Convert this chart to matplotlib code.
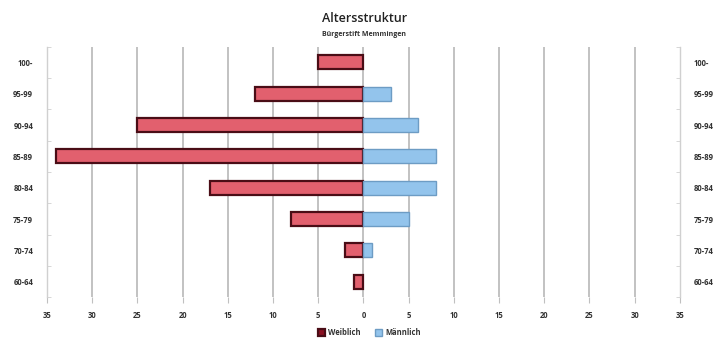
import numpy as np
import matplotlib.pyplot as plt

# Age groups, top to bottom
groups = ["100-", "95-99", "90-94", "85-89", "80-84", "75-79", "70-74", "60-64"]
weiblich = [5, 12, 25, 34, 17, 8, 2, 1]
maennlich = [0, 3, 6, 8, 8, 5, 1, 0]
xticks = [-35, -30, -25, -20, -15, -10, -5, 0, 5, 10, 15, 20, 25, 30, 35]

plt.rcParams['font.family'] = ['Open Sans', 'DejaVu Sans']

fig = plt.figure(figsize=(7.24, 3.41), dpi=100)
ax = fig.add_axes([0.065, 0.128, 0.874, 0.735])

y = np.arange(len(groups))[::-1]
h = 0.45

ax.barh(y, -np.array(weiblich), height=h, color='#e2606e', edgecolor='#4a0d16',
        linewidth=1.6, zorder=3, label='Weiblich')
mb = ax.barh(y, maennlich, height=h, color='#93c4ec', edgecolor='#6d9cc4',
             linewidth=1.0, zorder=3, label='Männlich')
# empty groups get no outline
for p, v in zip(mb.patches, maennlich):
    if v == 0:
        p.set_linewidth(0)

ax.set_xlim(-35, 35)
ax.set_ylim(-0.5, len(groups) - 0.5)
ax.set_xticks(xticks)
ax.set_xticklabels([str(abs(v)) for v in xticks], fontsize=5.5,
                   fontweight='bold', color='#333333')
ax.set_yticks(y)
ax.set_yticklabels(groups, fontsize=5.5, fontweight='bold', color='#333333')
ax.set_yticks(np.arange(len(groups) + 1) - 0.5, minor=True)

for v in xticks[1:-1]:
    ax.axvline(v, color='#b8b8b8', lw=1.2, zorder=1)

for s in ['top', 'bottom']:
    ax.spines[s].set_visible(False)
for s in ['left', 'right']:
    ax.spines[s].set_color('#d0d0d0')
    ax.spines[s].set_linewidth(1.0)

ax.tick_params(axis='x', length=4, color='#c0c0c0', pad=6)
ax.tick_params(axis='y', which='major', length=0, pad=10)
ax.tick_params(axis='y', which='minor', length=3, color='#d0d0d0',
               direction='in')

# mirrored labels on the right side
ax2 = ax.twinx()
ax2.set_ylim(ax.get_ylim())
ax2.set_yticks(y)
ax2.set_yticklabels(groups, fontsize=5.5, fontweight='bold', color='#333333')
ax2.set_yticks(np.arange(len(groups) + 1) - 0.5, minor=True)
ax2.tick_params(axis='y', which='major', length=0, pad=10)
ax2.tick_params(axis='y', which='minor', length=3, color='#d0d0d0',
                direction='in')
for s in ax2.spines.values():
    s.set_visible(False)

fig.text(0.503, 0.945, "Altersstruktur", ha='center', va='center',
         fontsize=9, fontweight='semibold', color='#222222')
fig.text(0.503, 0.898, "Bürgerstift Memmingen", ha='center', va='center',
         fontsize=5, fontweight='bold', color='#333333')

leg = fig.legend(loc='center', bbox_to_anchor=(0.51, 0.025), ncol=2,
                 frameon=False, fontsize=5.5, handlelength=1.0, handleheight=1.0,
                 columnspacing=1.8, handletextpad=0.4)
for t in leg.get_texts():
    t.set_fontweight('bold')
    t.set_color('#333333')
leg.legend_handles[0].set_facecolor('#8a1022')
leg.legend_handles[1].set_linewidth(1.0)

fig.savefig("out.png", dpi=100, facecolor='white')
